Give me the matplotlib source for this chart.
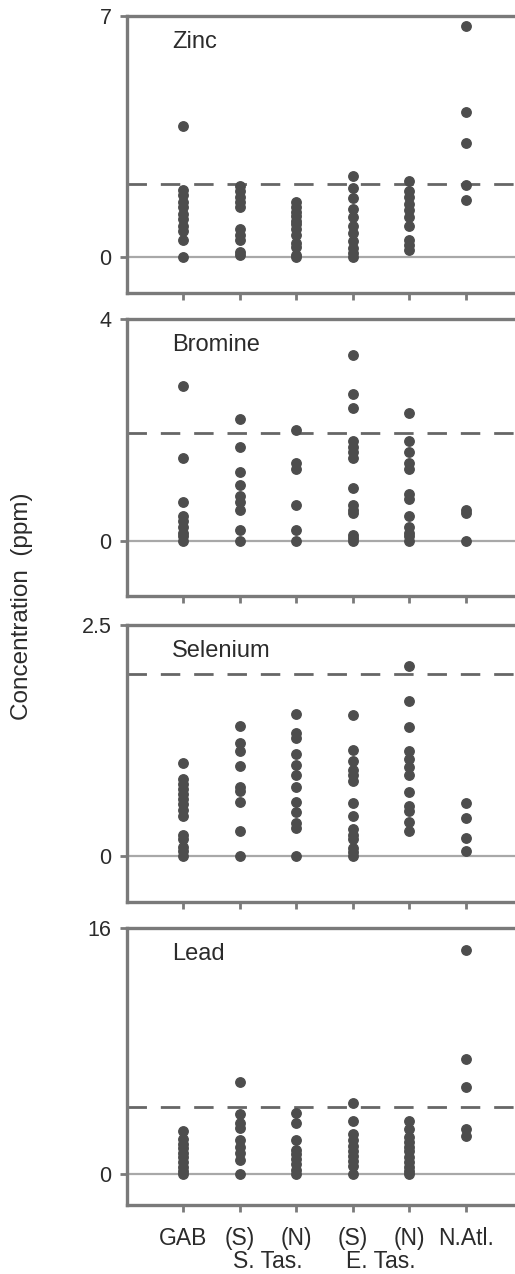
import matplotlib
matplotlib.use("Agg")
import matplotlib.pyplot as plt

plt.rcParams['font.family'] = ['Liberation Sans', 'DejaVu Sans']

# sampling sites along the x axis
sites = ["GAB", "(S)", "(N)", "(S)", "(N)", "N.Atl."]
regions = ["S. Tas.", "E. Tas."]
region_pos = [2.5, 4.5]

elements = ["Zinc", "Bromine", "Selenium", "Lead"]
ytop = [7, 4, 2.5, 16]
ybottom = [-1.05, -1.0, -0.5, -2.0]
guide = [2.12, 1.95, 1.97, 4.4]  # dashed reference level

# concentration (ppm), one list per site
zinc = [
    [3.8, 1.95, 1.8, 1.6, 1.45, 1.25, 1.1, 0.9, 0.75, 0.5, 0.0],
    [2.05, 1.9, 1.75, 1.6, 1.45, 0.8, 0.65, 0.5, 0.15, 0.05],
    [1.6, 1.45, 1.3, 1.2, 1.05, 0.95, 0.8, 0.65, 0.4, 0.3, 0.05, 0.0],
    [2.35, 2.0, 1.7, 1.4, 1.15, 0.9, 0.7, 0.45, 0.25, 0.1, 0.0],
    [2.2, 1.9, 1.75, 1.55, 1.35, 1.15, 0.9, 0.5, 0.35, 0.2],
    [6.7, 4.2, 3.3, 2.1, 1.65],
]
bromine = [
    [2.8, 1.5, 0.7, 0.45, 0.35, 0.25, 0.15, 0.08, 0.0],
    [2.2, 1.7, 1.25, 1.0, 0.8, 0.7, 0.55, 0.2, 0.0],
    [2.0, 1.4, 1.3, 0.65, 0.2, 0.0],
    [3.35, 2.65, 2.4, 1.8, 1.7, 1.6, 1.5, 0.95, 0.65, 0.55, 0.5, 0.1, 0.05, 0.0],
    [2.3, 1.8, 1.6, 1.4, 1.3, 0.85, 0.75, 0.45, 0.25, 0.15, 0.08, 0.0],
    [0.55, 0.5, 0.0],
]
selenium = [
    [1.0, 0.83, 0.78, 0.72, 0.67, 0.61, 0.56, 0.5, 0.43, 0.23, 0.18, 0.1, 0.05, 0.0],
    [1.4, 1.22, 1.14, 0.97, 0.75, 0.7, 0.58, 0.27, 0.0],
    [1.53, 1.33, 1.28, 1.1, 0.98, 0.87, 0.74, 0.58, 0.47, 0.36, 0.3, 0.0],
    [1.52, 1.15, 1.03, 0.93, 0.87, 0.81, 0.57, 0.43, 0.29, 0.23, 0.18, 0.08, 0.04, 0.0],
    [2.05, 1.68, 1.39, 1.14, 1.05, 0.96, 0.87, 0.69, 0.54, 0.49, 0.37, 0.27],
    [0.57, 0.41, 0.19, 0.05],
]
lead = [
    [2.8, 2.3, 2.0, 1.7, 1.4, 1.1, 0.8, 0.5, 0.25, 0.0],
    [6.0, 3.95, 3.35, 3.0, 2.25, 1.8, 1.4, 0.95, 0.0],
    [4.0, 3.35, 2.25, 1.6, 1.3, 1.0, 0.65, 0.3, 0.0],
    [4.65, 3.5, 2.65, 2.25, 1.85, 1.5, 1.2, 0.85, 0.55, 0.0],
    [3.5, 2.95, 2.45, 2.1, 1.8, 1.5, 1.15, 0.8, 0.5, 0.2, 0.0],
    [14.6, 7.5, 5.65, 2.95, 2.5],
]
all_data = [zinc, bromine, selenium, lead]

spine_col = "#7a7a7a"
dot_col = "#4d4d4d"
text_col = "#2b2b2b"

fig = plt.figure(figsize=(5.15, 12.74), dpi=100)

# panel rectangles in figure fraction (left, bottom, width, height)
panel_bottoms = [0.770, 0.532, 0.292, 0.054]
panel_h = 0.2175
left = 0.2466

for i, name in enumerate(elements):
    ax = fig.add_axes([left, panel_bottoms[i], 1.0 - left, panel_h])
    for j, vals in enumerate(all_data[i]):
        ax.plot([j + 1] * len(vals), vals, "o", ms=6.8, color=dot_col,
                mec=dot_col, zorder=3, clip_on=False)
    ax.axhline(0, color="#a8a8a8", lw=1.6, zorder=1)
    ax.axhline(guide[i], color="#666666", lw=2.0, dashes=(7, 5), zorder=2)

    ax.set_xlim(0, 6.87)
    ax.set_ylim(ybottom[i], ytop[i])
    ax.set_yticks([0, ytop[i]])
    ax.set_yticklabels(["0", str(ytop[i])])
    ax.set_xticks(range(1, 7))
    if i == 3:
        ax.set_xticklabels(sites)
    else:
        ax.set_xticklabels([])

    for side in ["left", "top", "bottom"]:
        ax.spines[side].set_color(spine_col)
        ax.spines[side].set_linewidth(2.4)
    ax.spines["right"].set_visible(False)
    ax.tick_params(axis="both", colors=spine_col, width=2, length=5,
                   labelcolor=text_col, labelsize=15.5, pad=6)
    ax.tick_params(axis="x", labelsize=16.5, pad=11)

    ax.text(0.116, 0.945, name, transform=ax.transAxes, fontsize=17,
            color=text_col, va="top", ha="left")

    if i == 3:
        for r, pos in zip(regions, region_pos):
            ax.text(pos, -0.162, r, transform=ax.get_xaxis_transform(),
                    ha="center", va="top", fontsize=16.5, color=text_col)

fig.text(0.043, 0.524, "Concentration  (ppm)", rotation=90, ha="center",
         va="center", fontsize=17.5, color=text_col)

fig.savefig("out.png", dpi=100)
